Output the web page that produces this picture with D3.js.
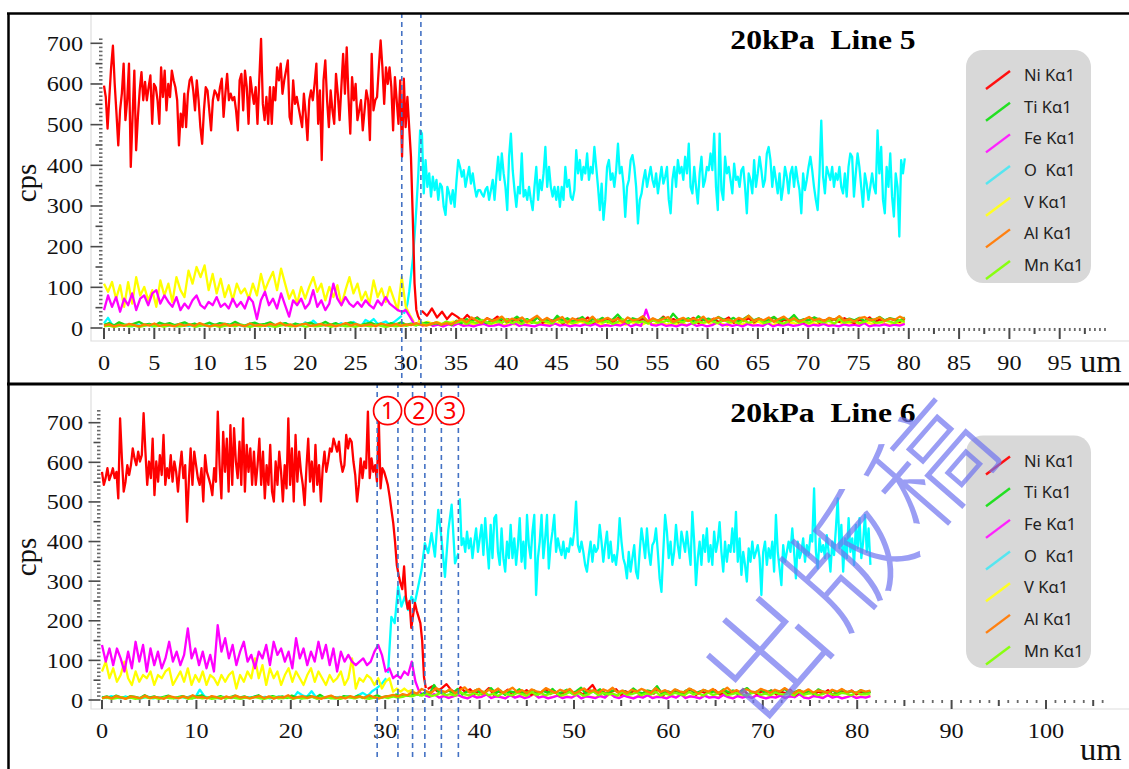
<!DOCTYPE html>
<html><head><meta charset="utf-8">
<script src="https://cdn.jsdelivr.net/npm/d3@7"></script>
<style>body{margin:0;background:#fff}svg{display:block}text{white-space:pre}</style>
</head><body>
<script>
// ===== DATA (cps; each segment spans [start,end] um) =====
const elements = ["Ni","Ti","Fe","O","V","Al","Mn"];
const legendLabels = ["Ni Kα1","Ti Kα1","Fe Kα1","O  Kα1","V Kα1","Al Kα1","Mn Kα1"];
const yTickLabels = [0,100,200,300,400,500,600,700];
const topXLabels = [0,5,10,15,20,25,30,35,40,45,50,55,60,65,70,75,80,85,90,95];
const botXLabels = [0,10,20,30,40,50,60,70,80,90,100];
const topMarks = [29.6,31.5];
const botMarks = [29.15,31.35,32.9,34.2,35.95,37.75];
const botCircleLabels = ["1","2","3"];

// ---- Line 5 (top) ----
const topNiA = [596,568,490,568,641,694,600,527,449,535,576,650,511,560,650,396,519,633,437,519,584,629,560,605,560,592,621,502,600,592,560,502,641,568,633,535,600,568,633,609,592,560,449,527,494,576,494,576,609,617,584,535,609,560,494,453,535,592,584,535,486,560,584,576,560,592,613,519,576,625,560,576,560,568,535,486,609,625,535,633,592,502,617,580,551,592,502,609,711,551,511,568,502,592,502,592,560,641,609,650,576,609,633,658,519,502,609,551,568,543,519,494,576,527,462,560,584,560,600,650,502,584,413,609,658,560,494,584,535,502,625,576,511,592,674,576,690,568,478,617,560,600,511,535,560,486,535,584,560,462,674,535,560,568,641,707,641,551,641,600,641,592,486,617,560,502,609,421,613,494,568,494,421,274,110,45,29,20];
const topNiB = [42,30,48,26,40,22,36,28,18,32,20,26,15,24,18,28,14,22,17,25,12,20,16,27,13,21,18,24,11,19,15,23,17,26,13,20,16,22,14,25,18,12,21,16,24,13,19,15,28,17,22,14,20,18,25,12,21,16,23,15,19,26,13,20,17,24,14,22,18,15,27,12,20,16,23,18,14,21,25,13,19,17,22,15,24,18,12,20,16,26,14,21,17,23,19,15,22];
const topOA = [12,25,8,6,10,5,7,4,9,6,5,8,4,7,6,10,5,8,4,6,9,5,7,4,8,6,5,9,7,4,6,8,5,10,6,4,7,5,8,6,9,4,7,5,8,12,7,5,9,6,14,8,18,9,6,8,5,10,7,12,6,9,15,8,5,20,14,22,10,12,16,8,14,22,30];
const topOB = [35,45,60,90,130,170,230,300,380,486,478,331,413,347,380,323,372,339,364,315,355,347,298,278,347,331,306,339,298,360,413,396,372,388,347,372,396,355,380,347,323,339,339,330,323,340,347,315,339,364,315,372,421,364,429,380,347,290,421,478,388,339,298,347,331,429,323,339,315,347,315,290,347,396,315,364,339,380,445,347,396,347,323,347,315,347,298,347,315,396,347,364,323,315,339,437,380,413,364,396,380,429,364,396,380,445,396,347,290,355,266,315,396,413,364,380,347,388,453,380,396,355,273,347,364,413,425,396,347,257,315,331,364,388,347,372,396,364,347,380,331,364,396,355,372,396,315,282,364,396,347,413,380,396,364,421,380,453,347,331,396,347,306,380,421,347,364,396,388,429,388,478,347,290,478,339,315,421,380,396,364,331,404,364,372,347,388,396,347,282,380,364,331,413,347,380,421,388,347,364,429,445,413,347,396,364,331,380,315,347,396,372,331,380,396,347,396,364,339,282,380,339,364,396,421,388,347,315,290,380,510,372,331,396,380,364,396,347,380,364,396,347,331,380,323,396,429,421,323,380,429,396,347,298,380,355,315,347,380,347,331,486,380,445,315,282,396,347,429,323,274,380,347,225,413,380,417];
const topFeA = [44,80,52,76,40,72,56,85,44,72,80,56,85,93,60,80,64,52,76,44,60,48,68,80,56,48,64,56,76,52,60,48,72,52,64,48,76,64,22,68,89,56,72,48,85,56,28,68,56,72,48,60,93,52,68,44,60,109,72,56,76,60,52,64,52,68,56,48,68,56,76,60,52,44,40,44,28,11];
const topFeB = [10,6,12,5,8,4,9,6,11,5,7,4,8,10,5,6,9,4,7,12,5,8,6,4,9,7,5,11,6,8,4,7,5,9,6,10,4,7,5,8,6,12,4,9,5,45,8,6,10,5,7,4,9,6,11,5,8,4,7,14,6,9,5,8,4,10,6,7,5,12,4,8,6,9,5,7,11,4,8,6,10,5,7,4,9,6,8,5,12,4,7,6,9,5,8,6,10];
const topVA = [109,89,113,72,105,52,113,60,125,80,101,68,93,52,117,80,109,64,125,93,76,141,109,150,125,154,93,133,85,121,76,105,68,109,85,97,72,109,80,133,93,117,138,93,146,109,72,93,60,101,72,101,125,89,109,68,101,76,105,56,93,125,85,109,68,89,60,117,76,97,64,101,72,44,125,52,32,15];
const topVB = [18,12,15,9,14,8,12,16,10,7,13,9,11,15,8,12,10,6,14,9,12,7,11,15,9,13,8,10,14,7,12,9,16,10,8,13,11,6,14,9,12,8,15,10,7,13,9,11,17,8,12,10,14,7,11,13,9,15,8,12,10,6,14,11,9,13,8,16,10,12,7,14,9,11,13,8,15,10,12,9,14,7,11,16,9,13,10,8,14,12,9,15,11,8,13,10,12];
const topTi = [8,12,6,14,9,7,11,15,8,10,6,13,9,12,7,10,14,8,11,6,9,13,7,12,10,8,15,9,6,11,13,8,10,14,7,9,12,6,11,8,10,13,7,9,15,8,12,6,10,14,9,7,11,13,8,10,6,12,9,14,8,11,7,10,13,9,12,8,15,7,18,12,22,15,25,18,12,20,16,24,14,19,28,17,22,13,26,18,21,15,30,19,24,16,20,27,14,22,18,25,15,21,33,19,16,24,20,28,15,22,18,26,17,35,21,19,24,16,29,20,23,17,27,21,18,25,15,22,30,19,24,16,21,27,18,23,20,32,17,22,19,26,21,16,24,20,28,18,23,19,25,17,22,20,27,19,24,21,18,26];
const topAl = [6,9,4,8,5,10,7,4,9,6,11,5,8,7,4,10,6,9,5,12,7,4,8,6,10,5,9,7,4,11,6,8,5,10,7,13,6,9,4,8,11,5,7,10,6,9,4,8,12,6,10,5,7,9,4,11,8,6,10,5,9,7,12,8,6,10,14,8,12,9,16,22,14,26,18,12,24,17,21,28,15,23,19,26,14,22,30,18,25,16,21,27,13,24,19,22,17,28,15,20,25,18,23,14,26,19,21,29,16,24,18,22,27,15,20,25,17,23,19,28,14,22,26,18,21,16,25,20,30,17,23,19,26,15,22,28,18,24,16,21,27,19,23,17,25,20,29,18,22,16,24,27,19,21,26,17,23,20,28,22];
const topMn = [4,6,3,5,7,4,6,3,5,8,4,6,3,7,5,4,6,8,3,5,7,4,6,3,5,7,4,8,5,3,6,4,7,5,3,6,8,4,5,7,3,6,4,5,8,3,6,7,4,5,3,7,6,4,8,5,3,6,4,7,5,9,6,12,8,10,14,9,16,11,13,18,10,15,12,20,14,11,17,13,22,12,16,10,19,14,12,18,15,11,21,13,17,12,16,19,11,14,20,13,17,10,15,22,12,18,14,16,11,20,13,15,19,12,17,14,21,11,16,13,18,15,12,20,14,17,11,19,13,16,22,12,15,18,14,11,17,20,13,16,12,19,15,14,18,11,21,13,16,17,12,15,20,14,13,18,16,12,19,15];

// ---- Line 6 (bottom) ----
const botNiA = [576,543,560,585,555,568,585,560,576,509,711,610,526,551,593,568,593,635,610,593,627,602,618,724,627,543,602,560,660,517,602,551,618,568,669,543,585,560,618,551,602,576,526,585,627,560,593,450,551,635,543,627,593,560,543,585,501,618,576,560,543,517,585,551,728,593,509,677,576,660,526,694,543,686,602,560,652,543,711,526,644,576,635,543,627,543,593,660,543,627,509,593,543,644,526,501,602,543,627,576,501,593,534,711,543,635,501,669,551,627,576,543,492,585,660,551,602,526,644,543,593,501,585,627,576,602,635,627,660,644,627,652,602,576,593,669,635,660,652,602,568,501,543,610,560,602,585,728,560,610,576,593,551,711,534,585,576,560,543,514,480,447,400,340,315,295,280,337,260,230,250,182,215,245,225,210,194,150,58,30];
const botNiB = [28,35,22,30,40,25,18,32,20,27,15,24,19,30,14,22,17,26,12,21,16,25,13,20,18,28,15,22,12,19,24,16,21,14,26,38,18,23,15,20,27,13,22,17,25,14,19,23,16,28,12,21,18,24,15,20,26,13,22,17,19,25,14,21,16,23,18,27,13,20,15,22,19,24,14,21,17,26,12,20,18,23,15,21,16,25,13,19,22,17,24,14,20,18,21];
const botOA = [8,5,10,6,4,9,5,7,3,6,8,4,7,5,9,6,4,8,5,10,6,26,9,5,7,4,8,6,5,9,4,7,6,10,5,8,4,6,9,5,7,4,20,12,8,22,6,9,5,7,4,8,6,10,5,12,18,10,22,30,40,55];
const botOB = [68,210,194,286,236,261,227,261,245,286,328,396,371,421,362,480,404,311,429,493,345,371];
const botOC = [509,391,408,374,425,383,408,358,400,433,374,408,442,366,459,391,332,442,358,459,467,374,341,433,358,324,400,358,442,358,408,341,391,459,349,400,332,467,391,358,425,467,265,358,400,467,358,408,467,332,391,425,467,374,408,383,366,400,358,383,374,408,391,425,501,391,374,400,374,341,324,366,400,349,391,374,383,442,400,349,391,425,358,400,349,366,341,383,459,400,358,341,307,374,324,358,391,324,307,374,433,400,358,433,374,341,391,400,433,374,307,273,374,467,425,358,400,341,374,442,391,358,425,400,374,425,383,341,475,400,290,358,400,341,416,374,433,349,391,341,425,374,400,449,374,324,400,349,391,374,433,374,475,349,408,316,374,341,299,383,349,400,358,374,391,358,265,374,400,341,383,358,400,324,467,374,332,290,391,349,374,400,374,433,374,307,400,358,374,408,349,391,366,416,400,534,374,332,408,374,391,358,416,374,324,400,366,433,509,383,442,324,408,358,459,374,408,341,442,383,459,358,400,467,374,433,341];
const botFeA = [139,97,130,88,130,105,72,122,80,147,97,139,72,130,88,122,80,105,147,97,122,88,114,181,105,130,88,122,80,114,72,189,122,156,105,139,88,122,147,97,114,80,122,105,139,88,147,114,130,97,122,80,156,105,130,88,122,97,147,105,139,88,130,72,122,97,114,97,88,97,105,88,97,122,139,114,72,80,55,63,55,72,63,97,46,21,13];
const botFeB = [12,8,15,6,10,5,9,13,7,4,11,6,8,14,5,9,7,4,12,6,10,5,8,16,6,9,4,7,11,5,8,6,13,4,9,7,5,10,6,18,8,5,11,7,4,9,6,12,5,8,7,4,10,6,14,5,9,7,4,11,6,8,5,13,7,4,10,6,9,5,12,7,4,8,6,11,5,9,7,15,6,4,10,8,5,12,6,9,4,7,11,5,8,6,10];
const botVA = [72,97,55,80,46,63,97,55,38,72,46,63,55,72,38,63,55,72,80,38,55,72,46,80,38,63,46,72,38,63,55,38,63,46,63,72,29,63,46,72,55,105,55,88,38,80,55,72,38,63,80,46,72,55,38,63,80,46,72,55,38,63,46,55,72,38,55,105,29,55,46,63,55,38,55,29,46,55,21,29,21,29,21,25,17,13,13];
const botVB = [12,9,14,7,11,6,10,13,8,5,12,7,9,15,6,10,8,5,13,7,11,6,9,14,7,10,5,8,12,6,9,7,13,5,10,8,6,11,7,15,9,6,12,8,5,10,7,13,6,9,8,5,11,7,14,6,10,8,5,12,7,9,6,14,8,5,11,7,10,6,13,8,5,9,7,12,6,10,8,15,7,5,11,9,6,13,7,10,5,8,12,6,9,7,11];
const botTi = [6,9,5,11,7,4,10,8,5,12,6,9,4,8,11,5,7,10,6,4,9,12,5,8,6,10,4,7,11,6,9,5,8,12,4,7,10,6,9,5,11,7,4,8,10,6,13,5,9,7,4,10,8,6,11,5,9,7,12,6,10,8,14,9,12,10,16,12,18,14,38,20,16,24,18,28,14,22,19,26,15,21,30,17,24,13,22,19,27,16,21,25,14,23,18,28,15,20,26,17,22,31,16,24,19,27,14,21,25,18,23,15,29,20,17,24,21,35,16,22,19,26,14,23,28,17,21,25,18,22,16,27,20,24,15,23,30,18,21,26,17,24,19,22,28,16,20,25,18,23,15,27,21,19,24,17,26,20,22,18,25,16,21];
const botAl = [5,8,4,10,6,3,9,7,4,11,5,8,6,3,10,7,4,9,5,12,6,8,4,10,7,3,9,5,11,6,8,4,7,10,5,9,3,8,6,12,4,7,10,5,9,6,3,8,11,5,7,4,10,6,9,5,12,7,4,8,10,13,9,15,12,20,16,28,22,18,30,24,20,27,17,25,32,19,23,28,16,26,21,29,18,24,31,20,25,17,27,22,19,30,24,18,26,21,28,16,23,29,20,25,18,27,22,31,19,24,17,26,21,28,23,18,30,20,25,17,27,22,19,29,24,16,26,21,28,18,23,31,20,25,17,27,22,19,28,24,18,26,21,30,23,17,25,20,27,19,24,22,18,26,21,28,20,23,17,25,21,24];
const botMn = [4,6,3,5,7,4,6,3,5,8,4,6,3,7,5,4,6,8,3,5,7,4,6,3,5,7,4,8,5,3,6,4,7,5,3,6,8,4,5,7,3,6,4,5,8,3,6,7,4,5,3,7,6,4,8,5,3,6,4,7,5,9,6,8,12,9,14,11,16,10,13,18,12,15,11,20,14,12,17,13,21,12,16,10,19,14,12,18,15,11,20,13,17,12,16,19,11,14,20,13,17,10,15,22,12,18,14,16,11,20,13,15,19,12,17,14,21,11,16,13,18,15,12,20,14,17,11,19,13,16,22,12,15,18,14,11,17,20,13,16,12,19,15,14,18,11,21,13,16,17,12,15,20,14,13,18,16,12,19,15,14,17];

// ===== STYLE =====
const colors = {Ni:"#ff0000",Ti:"#18dc18",Fe:"#ff00ff",O:"#00ffff",V:"#ffff00",Al:"#ff8000",Mn:"#80ff00"};
const legendColors = {Ni:"#ff1010",Ti:"#22e022",Fe:"#ff22ff",O:"#55e6f0",V:"#ffff22",Al:"#ff8010",Mn:"#88ff10"};
const drawOrder = ["O","V","Fe","Ni","Ti","Mn","Al"];
const SERIF = "'Liberation Serif','Times New Roman',serif";
const SANS = "'Noto Sans','Open Sans',sans-serif";

function seg(x0,x1,vals){const n=vals.length;return vals.map((v,i)=>[x0+(x1-x0)*i/(n-1),v]);}

const panels = [
 {title:"20kPa  Line 5", titleY:48.5,
  series:{Ni:[seg(0,31.4,topNiA),seg(31.6,79.6,topNiB)], O:[seg(0,29.6,topOA),seg(29.8,79.6,topOB)],
          Fe:[seg(0,30.8,topFeA),seg(31.2,79.6,topFeB)], V:[seg(0,30.8,topVA),seg(31.2,79.6,topVB)],
          Ti:[seg(0,79.6,topTi)], Al:[seg(0,79.6,topAl)], Mn:[seg(0,79.6,topMn)]},
  xr:[104,1110], yr:[328,43.3], xLabels:topXLabels, minor:0.5, mid:2.5, major:5, axisEnd:99.6,
  tickLen:[3,6,11], yAxisTop:712, labelY:370, umY:372, cpsY:183, legendY:50, legendH:233,
  marks:topMarks, dash:[13,383], frame:[14,341], circles:null},
 {title:"20kPa  Line 6", titleY:421.5,
  series:{Ni:[seg(0,34.3,botNiA),seg(34.5,81.4,botNiB)], O:[seg(0,30.1,botOA),seg(30.3,37.75,botOB),seg(37.9,81.4,botOC)],
          Fe:[seg(0,34.0,botFeA),seg(34.2,81.4,botFeB)], V:[seg(0,34.0,botVA),seg(34.2,81.4,botVB)],
          Ti:[seg(0,81.4,botTi)], Al:[seg(0,81.4,botAl)], Mn:[seg(0,81.4,botMn)]},
  xr:[102,1046], yr:[700,422.7], xLabels:botXLabels, minor:1, mid:5, major:10, axisEnd:106,
  tickLen:[3,6,9], yAxisTop:738, labelY:738, umY:760, cpsY:557, legendY:435.5, legendH:232.5,
  marks:botMarks, dash:[383,757], frame:[386,709], circles:botCircleLabels}
];

const svg = d3.select("body").append("svg").attr("width",1129).attr("height",769);
svg.append("rect").attr("width",1129).attr("height",769).attr("fill","#fff");

function stext(g,x,y,str,o){
  const t=g.append("text").attr("transform",`translate(${x},${y}) scale(${o.sx||1},1)`)
   .attr("font-family",o.ff||SERIF).attr("font-size",o.fs).attr("text-anchor",o.anchor||"start")
   .attr("fill",o.fill||"#111").text(str);
  if(o.fw) t.attr("font-weight",o.fw);
  return t;
}
const isMult=(v,m)=>Math.abs(v/m-Math.round(v/m))<1e-6;

panels.forEach(p=>{
  const x=d3.scaleLinear().domain([0,100]).range(p.xr);
  const y=d3.scaleLinear().domain([0,700]).range(p.yr);
  const g=svg.append("g");
  g.append("path").attr("d",`M91,${p.frame[0]}V${p.frame[1]}H1129`).attr("fill","none").attr("stroke","#dedede").attr("stroke-width",1.2);
  const y0=y(0);
  d3.range(0,p.axisEnd+1e-9,p.minor).forEach(v=>{
    const L = isMult(v,p.major)?p.tickLen[2]:(isMult(v,p.mid)?p.tickLen[1]:p.tickLen[0]);
    g.append("line").attr("x1",x(v)).attr("x2",x(v)).attr("y1",y0).attr("y2",y0+L)
      .attr("stroke",L>4?"#4a4a4a":"#6a6a6a").attr("stroke-width",L>4?2:1.8);
  });
  const ax=x(0)-1.5;
  d3.range(0,p.yAxisTop+1e-9,10).forEach(v=>{
    const L = isMult(v,100)?12:(isMult(v,50)?7:3.5);
    g.append("line").attr("x1",ax-L).attr("x2",ax).attr("y1",y(v)).attr("y2",y(v))
      .attr("stroke",L>4?"#4a4a4a":"#6a6a6a").attr("stroke-width",1.6);
  });
  p.xLabels.forEach(v=>stext(g,x(v),p.labelY,String(v),{fs:22,anchor:"middle",sx:1.1}));
  yTickLabels.forEach(v=>stext(g,83,y(v)+7.5,String(v),{fs:22,anchor:"end",sx:1.1}));
  g.append("text").attr("transform",`translate(36,${p.cpsY}) rotate(-90)`).attr("text-anchor","middle")
    .attr("font-family",SERIF).attr("font-size",29).attr("fill","#111").text("cps");
  stext(g,1080,p.umY,"um",{fs:31,sx:1.05});
  const line=d3.line().x(d=>x(d[0])).y(d=>y(d[1]));
  drawOrder.forEach(name=>{
    p.series[name].forEach(s=>{
      g.append("path").datum(s).attr("d",line).attr("fill","none").attr("stroke",colors[name])
       .attr("stroke-width",2.3).attr("stroke-linejoin","round");
    });
  });
  g.append("rect").attr("x",966).attr("y",p.legendY).attr("width",125).attr("height",p.legendH)
    .attr("rx",17).attr("fill","#d8d8d8");
  elements.forEach((name,i)=>{
    const cy=p.legendY+25+i*31.67;
    g.append("line").attr("x1",986).attr("y1",cy+14).attr("x2",1010).attr("y2",cy-4)
      .attr("stroke",legendColors[name]).attr("stroke-width",2.4);
    stext(g,1024,cy+6,legendLabels[i],{fs:16.5,ff:SANS,fill:"#222"});
  });
  stext(g,823,p.titleY,p.title,{fs:28,fw:"bold",anchor:"middle",sx:1.13,fill:"#000"});
  p.marks.forEach(v=>{
    g.append("line").attr("x1",x(v)).attr("x2",x(v)).attr("y1",p.dash[0]).attr("y2",p.dash[1])
     .attr("stroke","#4472c4").attr("stroke-width",1.6).attr("stroke-dasharray","5,4");
  });
  if(p.circles){
    p.circles.forEach((lab,i)=>{
      const cx=(x(p.marks[2*i])+x(p.marks[2*i+1]))/2, cy=410.7;
      g.append("circle").attr("cx",cx).attr("cy",cy).attr("r",14).attr("fill","#fff")
        .attr("stroke","#ff0000").attr("stroke-width",1.7);
      g.append("text").attr("x",cx).attr("y",cy+8.5).attr("text-anchor","middle").attr("font-family",SANS)
        .attr("font-size",23).attr("fill","#ff0000").text(lab);
    });
  }
});

svg.append("path").attr("d","M7,13.5H1129").attr("stroke","#000").attr("stroke-width",2.5);
svg.append("path").attr("d","M8.5,13V769").attr("stroke","#000").attr("stroke-width",2.5);
svg.append("path").attr("d","M7,384H1129").attr("stroke","#000").attr("stroke-width",3);

// watermark
svg.append("text").attr("transform","translate(845,552) rotate(-49)").attr("text-anchor","middle")
  .attr("dominant-baseline","central").attr("font-family","'Noto Sans CJK SC'").attr("font-weight",300)
  .attr("font-size",118).attr("letter-spacing",8).attr("fill","#6f74f0").attr("fill-opacity",0.7)
  .text("出版稿");
</script>
</body></html>
